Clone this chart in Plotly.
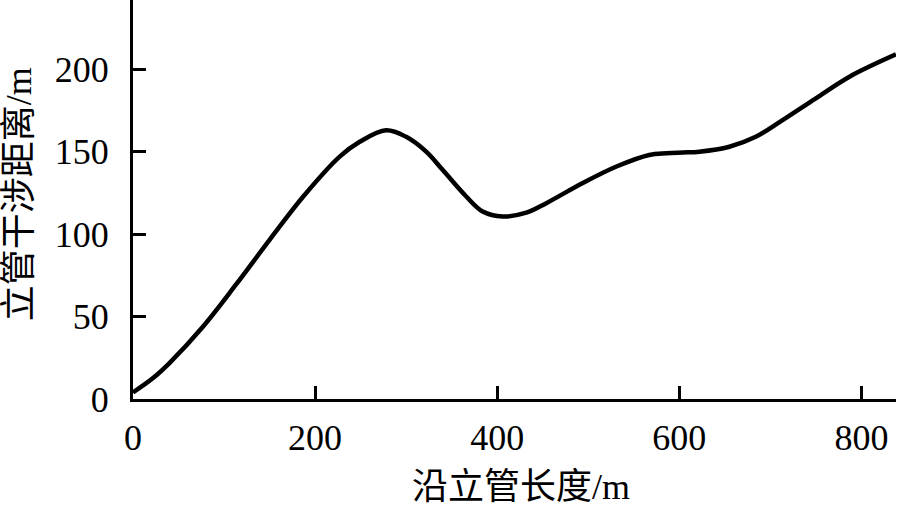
import plotly.graph_objects as go

# Data
x_len = [0, 22, 40, 77, 113, 150, 187, 227, 249, 278, 300, 322, 340, 366, 384, 406, 432, 454, 494, 531, 567, 586, 604, 622, 655, 684, 713, 750, 787, 838]
y_dist = [4, 12.7, 21.8, 44, 69.3, 96.5, 122.8, 147, 156, 163, 159, 150, 139, 122.8, 113.7, 110.7, 113, 118.8, 131, 141, 148, 149, 149.5, 150, 153, 159, 169, 182.4, 195.5, 209]

x_ticks = [0, 200, 400, 600, 800]
y_ticks = [0, 50, 100, 150, 200]

x_title = "沿立管长度/m"
y_title = "立管干涉距离/m"

FONT = "Liberation Serif, Times New Roman, Noto Sans CJK SC, serif"

fig = go.Figure()
fig.add_trace(go.Scatter(
    x=x_len, y=y_dist, mode="lines",
    line=dict(color="black", width=4.5, shape="spline", smoothing=1.0),
    showlegend=False, hoverinfo="skip",
))

axis_common = dict(
    showgrid=False, zeroline=False, showline=True, linecolor="black", linewidth=3,
    ticks="inside", ticklen=13, tickwidth=3, tickcolor="black",
    tickfont=dict(family=FONT, size=36, color="black"),
    automargin=False,
)

fig.update_layout(
    width=900, height=513,
    margin=dict(l=133, r=4, t=0, b=114),
    paper_bgcolor="white", plot_bgcolor="white",
    xaxis=dict(range=[0, 838], tickvals=x_ticks, ticktext=[str(v) for v in x_ticks],
               ticklabelstandoff=5, **axis_common),
    yaxis=dict(range=[0, 242], tickvals=y_ticks, ticktext=[str(v) for v in y_ticks],
               ticklabelstandoff=14, **axis_common),
    annotations=[
        dict(text=x_title, xref="paper", yref="paper", x=0.5085, y=-0.2196,
             xanchor="center", yanchor="middle", showarrow=False,
             font=dict(family=FONT, size=36, color="black")),
        dict(text=y_title, xref="paper", yref="paper", x=-0.149, y=0.514,
             xanchor="center", yanchor="middle", showarrow=False, textangle=-90,
             font=dict(family=FONT, size=36, color="black")),
    ],
)

fig.write_html("out.html", config={"displayModeBar": False},
               post_script="document.body.style.margin='0';")
